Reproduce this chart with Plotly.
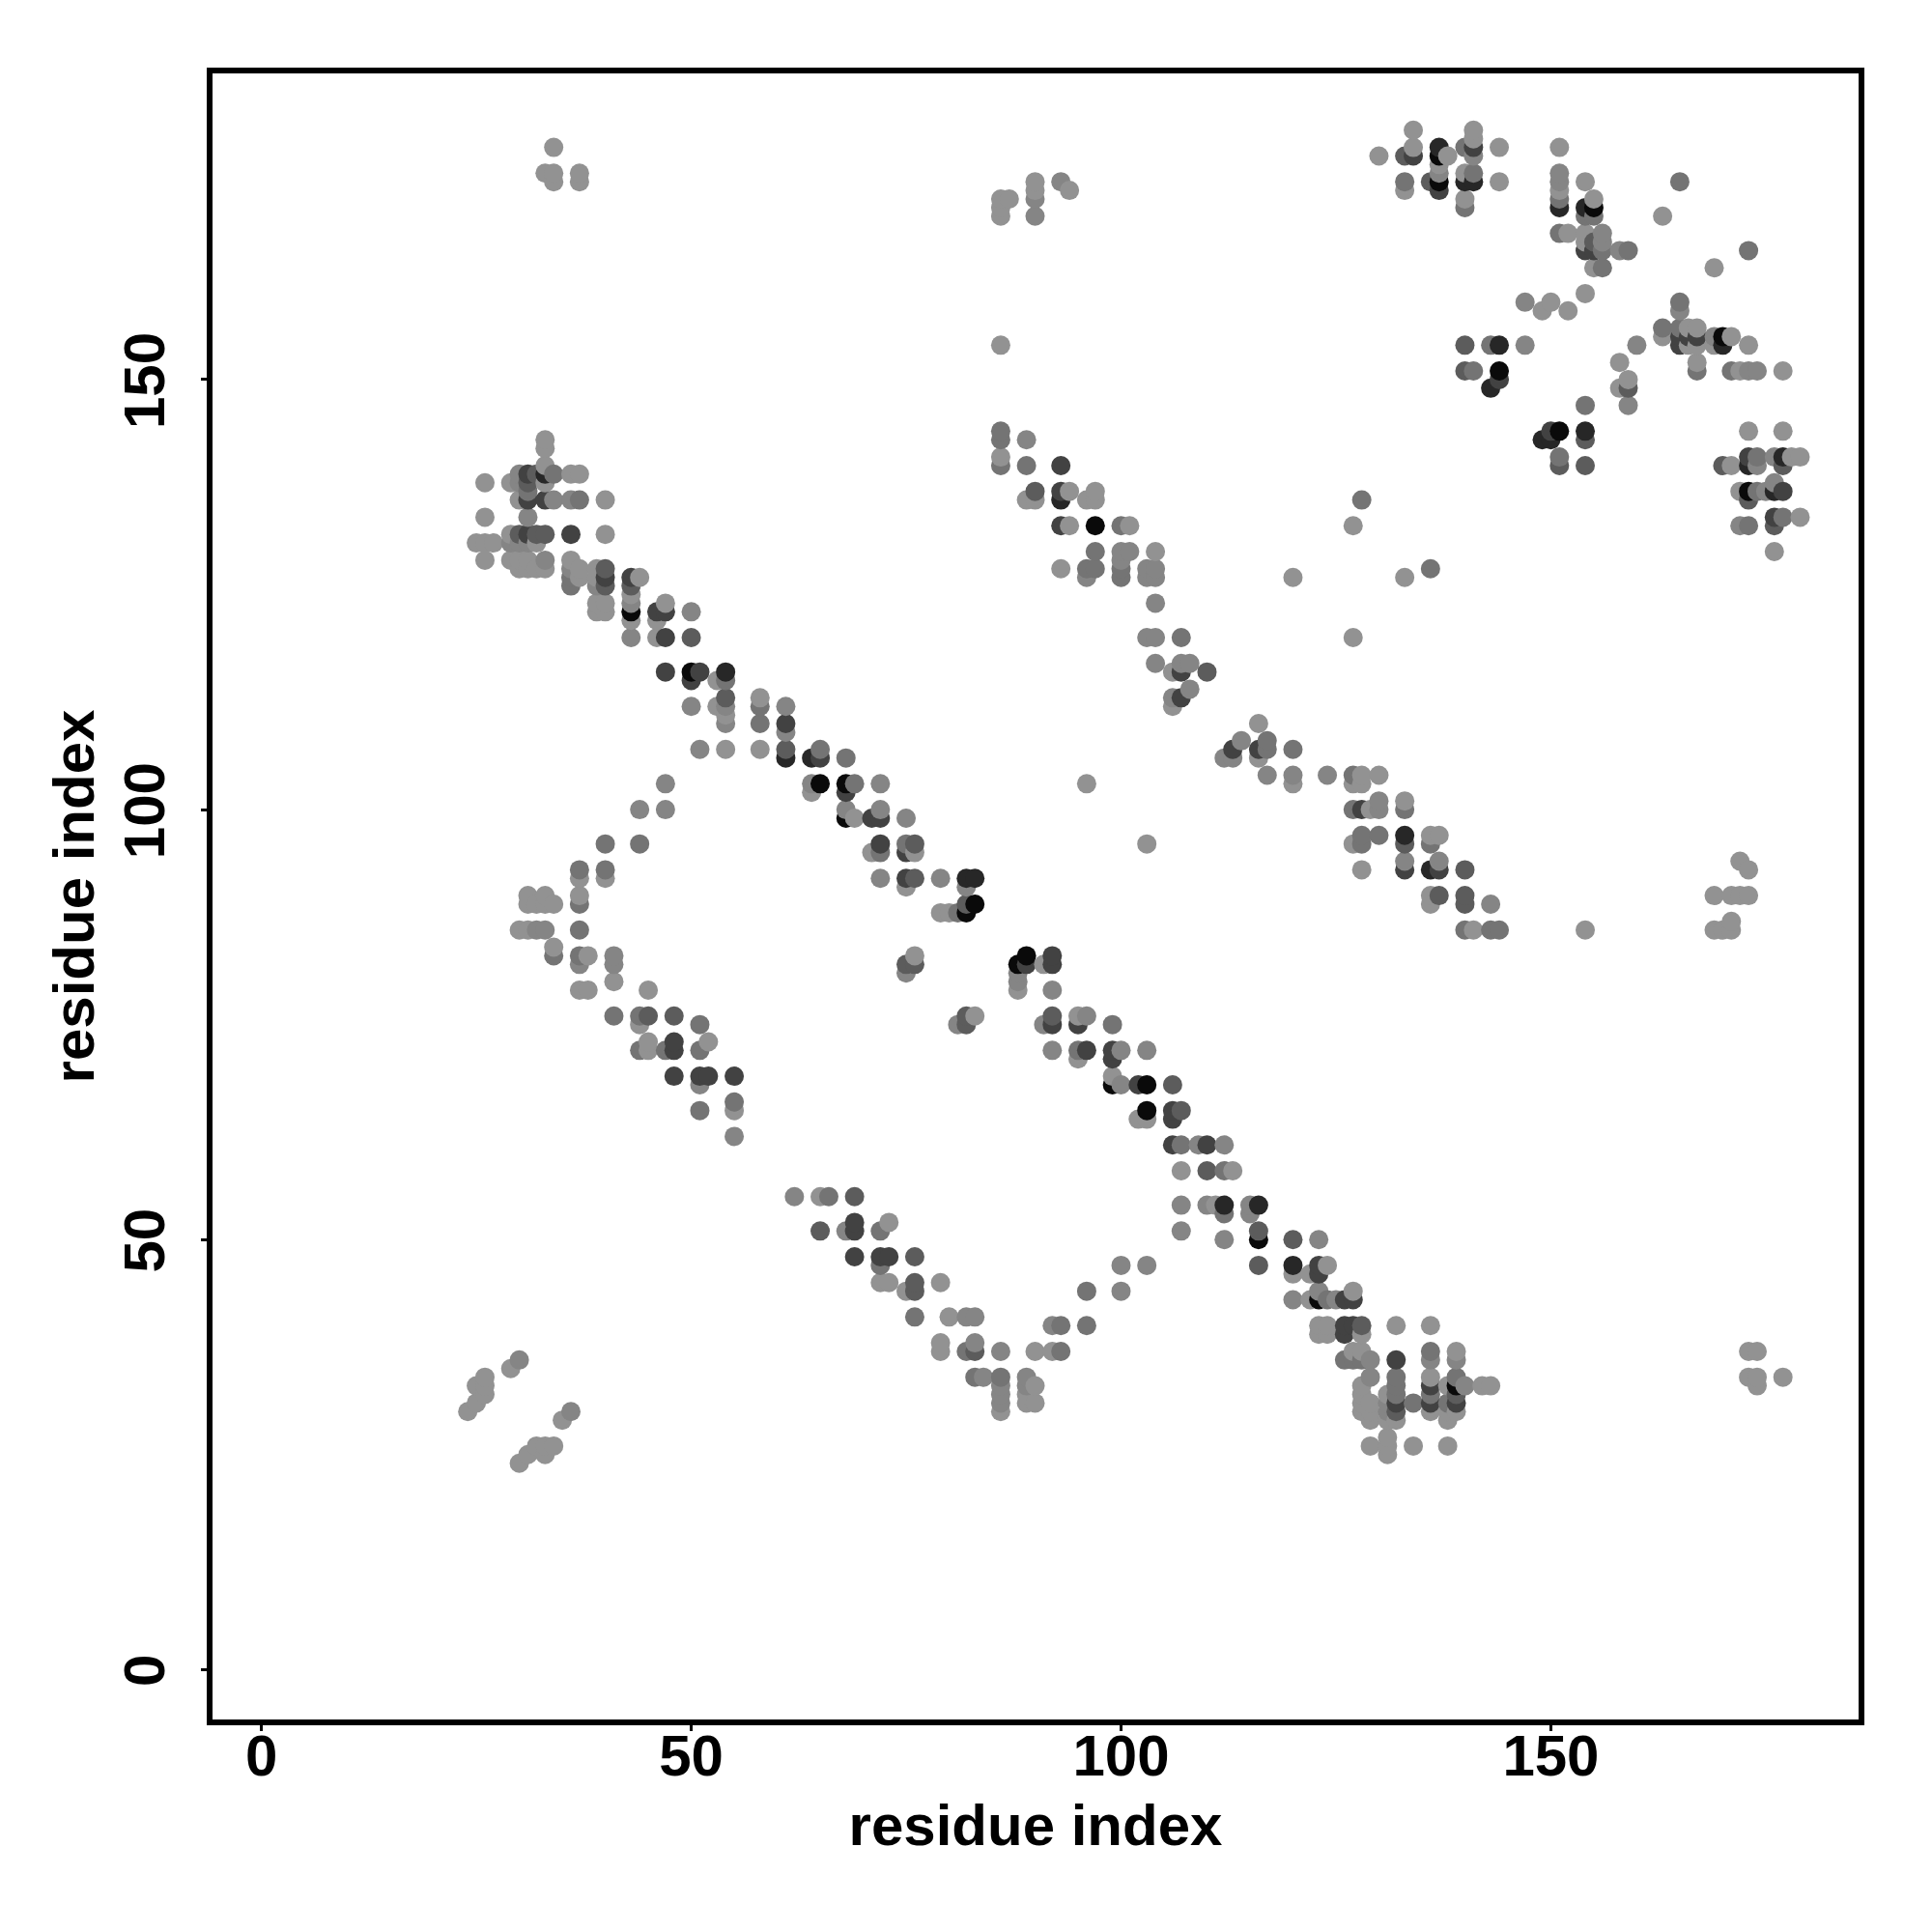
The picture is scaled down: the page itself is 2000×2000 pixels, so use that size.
import plotly.graph_objects as go

# contacts (residue i, residue j), grouped by the grey shade
contacts_light = [
 (34,177),(33,174),(34,174),(34,173),(37,174),(37,173),(33,143),(33,142),(33,140),(36,139),(37,139),
 (26,138),(29,138),(33,138),(30,136),(40,136),(26,134),(29,132),(40,132),(25,131),(26,131),(27,131),
 (32,131),(26,129),(29,129),(30,129),(31,129),(30,128),(31,128),(32,128),(33,128),(36,129),(37,128),
 (37,127),(39,128),(39,127),(39,124),(40,124),(39,123),(40,123),(43,125),(44,127),(43,122),(46,122),
 (46,120),(47,124),(53,115),(53,112),(54,111),(58,113),(58,107),(51,107),(54,107),(64,102),(69,99),
 (71,95),(76,95),(75,91),(79,88),(80,88),(40,92),(37,92),(37,90),(31,90),(33,90),(31,89),(32,89),
 (33,89),(34,89),(30,86),(31,86),(34,84),(38,83),(41,80),(37,79),(38,79),(45,79),(44,75),(45,73),
 (45,72),(52,73),(55,65),(76,83),(83,76),(91,75),(88,80),(88,79),(91,82),(65,55),(73,52),(72,45),
 (73,45),(79,45),(75,44),(79,38),(79,37),(80,41),(84,34),(90,37),(92,40),(92,37),(89,32),(89,31),
 (90,33),(90,31),(86,30),(95,76),(95,71),(99,69),(102,64),(103,64),(107,58),(113,58),(111,54),
 (120,46),(122,46),(122,43),(124,47),(127,44),(123,40),(124,40),(123,39),(124,39),(128,39),(127,37),
 (128,37),(132,40),(136,40),(139,37),(136,34),(128,33),(138,33),(140,33),(142,33),(143,33),(128,32),
 (131,32),(128,31),(129,31),(128,30),(129,30),(131,30),(136,30),(138,30),(129,29),(131,29),(132,29),
 (138,29),(131,27),(129,26),(131,26),(134,26),(138,26),(131,25),(173,37),(174,37),(173,34),(174,34),
 (174,33),(177,34),(24,30),(25,31),(25,33),(26,34),(26,33),(26,32),(29,35),(35,29),(30,24),(31,25),
 (32,26),(33,26),(33,25),(34,26),(86,171),(87,171),(86,170),(86,169),(90,173),(90,172),(93,173),
 (94,172),(86,154),(86,141),(89,143),(89,136),(90,136),(94,137),(96,136),(97,137),(97,136),(94,133),
 (101,133),(104,130),(93,128),(106,116),(106,112),(116,110),(116,106),(120,103),(127,103),(128,103),
 (128,104),(130,104),(129,100),(133,101),(136,97),(137,97),(127,96),(128,93),(136,90),(136,89),(141,86),
 (154,86),(169,90),(171,90),(172,90),(173,90),(172,94),(173,93),(169,86),(170,86),(171,86),(171,87),
 (134,179),(141,179),(141,178),(130,176),(134,177),(138,176),(141,176),(144,177),(137,175),(140,174),
 (144,173),(133,172),(140,171),(151,177),(151,172),(154,173),(155,171),(152,167),(154,167),(154,166),
 (155,163),(154,160),(150,159),(149,158),(152,158),(163,169),(169,163),(163,155),(166,156),(167,156),
 (166,154),(167,154),(169,154),(171,155),(173,154),(160,154),(158,152),(159,150),(158,149),(167,152),
 (172,151),(177,151),(173,144),(177,144),(178,141),(179,141),(171,140),(172,137),(175,137),(179,134),
 (172,133),(176,130),(133,127),(120,127),(127,133),(127,120),(96,103),(103,96),(117,104),(139,30),
]
contacts_gray = [
 (30,139),(30,138),(34,136),(36,136),(31,134),(29,131),(30,131),(31,131),(33,129),(36,128),(39,126),
 (43,124),(43,120),(50,123),(51,107),(50,112),(54,110),(54,112),(61,112),(61,109),(64,103),(72,103),
 (47,103),(47,100),(44,100),(72,100),(75,99),(68,100),(76,96),(72,92),(79,92),(82,91),
 (37,93),(37,89),(33,86),(32,86),(37,86),(34,83),(37,83),(41,83),(41,82),(37,82),(44,72),(47,72),
 (51,72),(51,68),(55,66),(55,62),(62,55),(66,55),(68,51),(72,51),(75,81),(81,75),(88,81),(92,79),
 (92,72),(100,72),(103,72),(91,75),(96,76),(99,75),(100,68),(107,61),(109,61),(112,61),(107,54),
 (110,54),(112,50),(115,54),(115,53),(107,51),(100,47),(103,47),(100,44),(123,50),(120,43),(123,44),
 (125,43),(92,40),(93,40),(96,40),(96,44),(86,37),(82,41),(83,41),(83,38),(84,34),(83,34),(89,34),(89,33),
 (86,34),(86,33),(86,32),(86,31),(127,36),(128,36),(129,36),(136,37),(136,36),(139,36),(139,34),(140,33),
 (131,31),(134,31),(136,32),(131,30),(132,30),(138,31),(129,34),(88,80),(86,144),(90,171),(90,169),(89,143),
 (93,173),(93,140),(100,130),(101,130),(97,130),(96,128),(100,129),(103,128),(104,128),(96,127),(103,127),
 (104,127),(104,124),(103,120),(104,120),(104,117),(107,117),(108,117),(108,114),(110,116),(106,113),
 (114,108),(112,106),(113,106),(117,104),(120,104),(124,104),(127,104),(130,101),(130,100),(133,94),
 (137,94),(143,89),(140,86),(141,176),(137,174),(133,173),(140,173),(151,174),(151,173),(151,171),
 (151,167),(154,169),(155,169),(156,167),(156,166),(158,165),(147,159),(160,154),(165,158),(169,155),
 (147,154),(173,151),(174,151),(141,151),(159,147),(176,141),(175,137),(176,138),(174,140),(172,133),
 (177,134),(174,141),(143,154),(30,36),(36,30),
]
contacts_mid = [
 (31,137),(37,136),(34,139),(36,127),(36,126),(46,123),(58,112),(65,107),(68,106),(69,103),
 (72,95),(75,96),(81,88),(37,93),(40,93),(40,96),(44,96),(37,89),(37,86),(34,83),(37,83),
 (41,76),(44,76),(51,75),(44,72),(47,72),(51,72),(55,66),(51,65),(69,51),(72,51),(65,51),(76,41),
 (72,47),(66,55),(82,37),(83,34),(86,34),(93,40),(93,37),(96,44),(96,40),(82,75),(99,75),(96,72),
 (95,72),(106,68),(107,65),(107,61),(110,58),(112,58),(112,53),(116,51),(120,50),(124,43),(126,36),
 (127,36),(128,36),(132,34),(132,33),(132,32),(134,31),(136,32),(136,37),(138,31),(86,144),(86,143),
 (86,140),(100,133),(89,140),(97,130),(96,128),(97,128),(100,128),(100,127),(107,120),(117,108),(117,107),
 (120,107),(127,104),(127,100),(128,97),(130,97),(128,96),(136,96),(133,100),(140,86),(143,86),(144,86),
 (133,173),(137,172),(141,174),(140,177),(140,170),(151,171),(151,167),(154,169),(155,169),(156,165),
 (156,163),(159,165),(163,156),(165,159),(165,156),(165,173),(136,128),(128,136),(173,165),(159,149),
 (167,151),(171,151),(140,154),(143,154),(140,151),(141,151),(154,147),(154,143),(151,141),(174,141),
 (174,137),(177,140),(170,140),(173,136),(173,133),(176,133),(177,134),(54,115),(58,110),(139,34),
]
contacts_middark = [
 (32,139),(31,138),(30,132),(32,132),(33,132),(40,128),(40,126),(43,126),(50,120),(54,113),(61,107),
 (76,96),(76,92),(48,76),(45,76),(82,89),(76,82),(75,82),(82,76),(82,75),(92,76),(69,55),(65,51),
 (76,48),(76,45),(76,44),(83,37),(110,58),(107,65),(106,68),(116,51),(120,50),(132,31),(132,30),
 (139,32),(126,39),(90,137),(110,116),(113,107),(116,107),(133,96),(137,93),(140,93),(137,90),
 (140,90),(140,89),(120,47),(128,40),(133,176),(136,173),(154,165),(155,166),(165,155),(116,47),
 (140,151),(140,154),(159,149),(154,143),(154,140),(151,140),(173,141),(170,140),(173,136),(176,133),
 (177,140),(176,134),
]
contacts_dark = [
 (31,139),(31,136),(33,136),(31,132),(36,132),(40,127),(43,127),(46,123),(47,123),(47,120),(51,116),
 (50,115),(47,116),(65,106),(68,102),(71,99),(72,99),(75,95),(75,92),(48,73),(48,72),(48,69),(51,69),
 (52,69),(55,69),(92,83),(92,82),(92,75),(95,75),(89,82),(69,52),(69,51),(69,48),(72,48),(73,48),
 (96,72),(99,72),(99,71),(102,68),(106,65),(106,64),(106,61),(110,61),(123,47),(123,46),(126,43),(127,43),
 (126,40),(127,40),(126,39),(132,36),(132,31),(136,33),(136,31),(139,31),(93,137),(93,133),(93,140),
 (107,116),(107,113),(113,107),(116,107),(128,100),(133,93),(137,93),(134,176),(137,172),(141,173),
 (141,177),(151,170),(155,165),(154,165),(165,154),(166,155),(167,155),(165,155),(144,150),(150,144),
 (176,137),(177,137),(177,141),(176,134),(173,141),(61,110),(72,96),
]
contacts_verydark = [
 (33,139),(54,116),(137,177),(137,173),(61,106),(64,106),(82,92),(83,92),(112,54),(116,54),
 (120,47),(136,93),(133,97),(93,136),(140,173),(141,173),(151,170),(154,170),(154,144),(143,149),(149,143),
 (150,143),(170,154),(144,154),(173,140),(176,137),(177,141),(99,68),(103,65),
]
contacts_black = [
 (43,123),(50,116),(65,103),(68,103),(68,99),(82,88),(83,89),(88,82),(89,83),(99,68),(103,68),(103,65),
 (116,50),(123,43),(139,33),(97,133),(137,176),(137,173),(155,170),(144,151),(151,144),(170,155),(173,137),
]

shade_values = {
    "light": "#929292", "gray": "#858585", "mid": "#747474", "middark": "#5c5c5c",
    "dark": "#424242", "verydark": "#272727", "black": "#0a0a0a",
}
groups = [("light", contacts_light), ("gray", contacts_gray), ("mid", contacts_mid),
          ("middark", contacts_middark), ("dark", contacts_dark),
          ("verydark", contacts_verydark), ("black", contacts_black)]

# one shade per contact: the darkest reading wins, drawn in i then j order
merged = {}
for name, pts in groups:
    for p in pts:
        merged[p] = shade_values[name]
ordered = sorted(merged)
xs = [p[0] for p in ordered]
ys = [p[1] for p in ordered]
cols = [merged[p] for p in ordered]

tick_vals = [0, 50, 100, 150]
font = "Liberation Sans"

fig = go.Figure(go.Scatter(
    x=xs, y=ys, mode="markers",
    marker=dict(size=20, color=cols, line=dict(width=0)),
    hoverinfo="skip",
))
axis = dict(
    tickmode="array", tickvals=tick_vals, ticktext=[str(t) for t in tick_vals],
    showgrid=False, zeroline=False, showline=True, mirror=True,
    linecolor="black", linewidth=6, ticks="outside", ticklen=6, tickwidth=3,
    tickcolor="black", tickfont=dict(family=font, size=60, color="black", weight="bold"),
    automargin=False,
)
fig.update_layout(
    width=2000, height=2000, paper_bgcolor="white", plot_bgcolor="white",
    showlegend=False, margin=dict(l=212, r=84, t=68, b=228),
    xaxis=dict(axis, range=[-5.69, 185.8], ticklabelstandoff=-26,
               title=dict(text="<b>residue index</b>", font=dict(family=font, size=60, color="black"), standoff=20)),
    yaxis=dict(axis, range=[-5.8, 185.6], tickangle=-90, ticklabelstandoff=14, ticklabelshift=10,
               title=dict(text="<b>residue index</b>", font=dict(family=font, size=60, color="black"), standoff=1)),
)
fig.write_html("out.html")
